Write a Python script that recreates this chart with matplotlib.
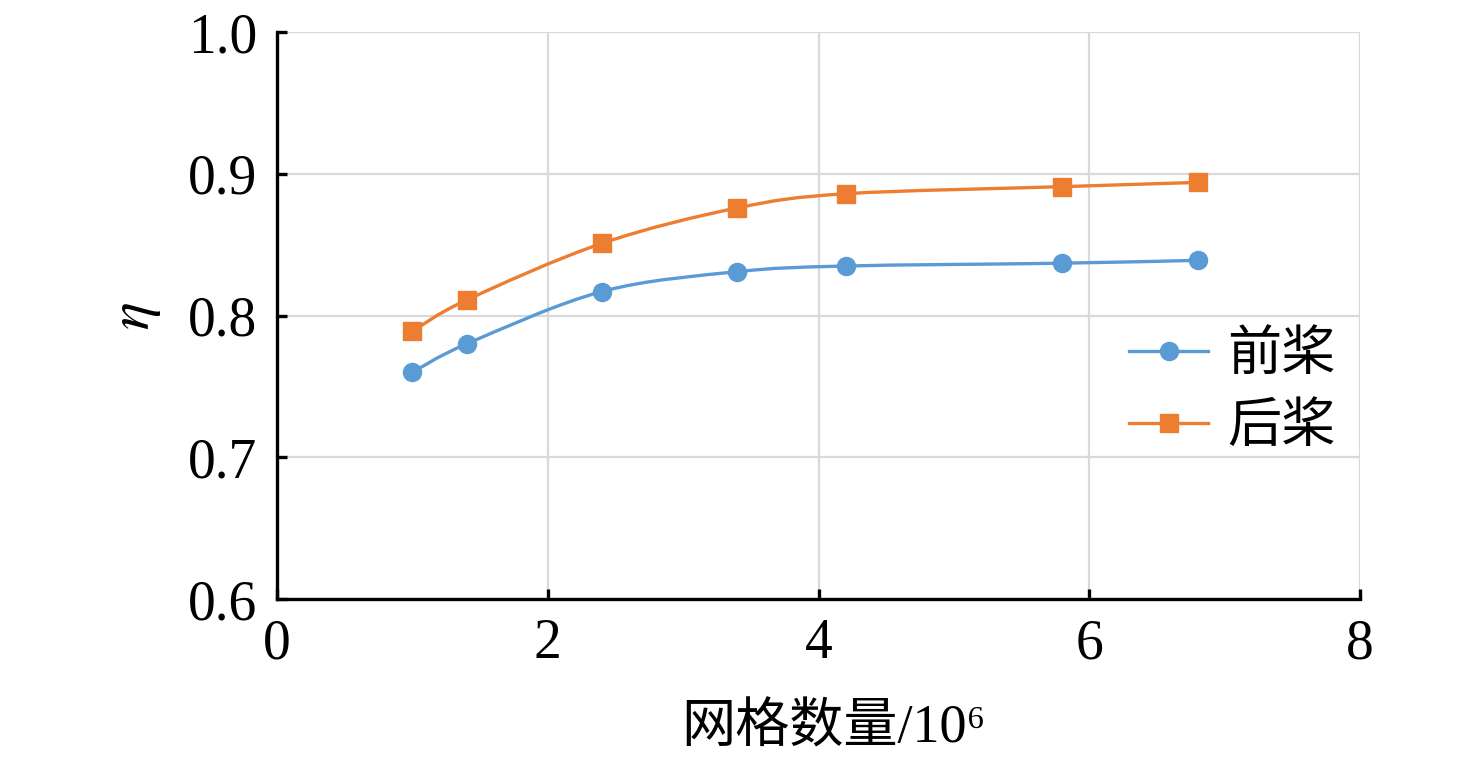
import matplotlib
matplotlib.use("Agg")
import matplotlib.pyplot as plt
from matplotlib.path import Path
from matplotlib.patches import PathPatch
from matplotlib.lines import Line2D
import numpy as np

plt.rcParams['font.family'] = ['Liberation Serif', 'Noto Sans CJK SC']
plt.rcParams['mathtext.fontset'] = 'stix'

grid_counts = [1.0, 1.4, 2.4, 3.4, 4.2, 5.8, 6.8]
front_eta = [0.760, 0.780, 0.817, 0.831, 0.835, 0.837, 0.839]
rear_eta = [0.789, 0.811, 0.851, 0.876, 0.886, 0.891, 0.894]
series_names = ['前桨', '后桨']
x_ticks = [0, 2, 4, 6, 8]
y_ticks = [0.6, 0.7, 0.8, 0.9, 1.0]

blue = '#5B9BD5'
orange = '#ED7D31'


def smooth_path(x, y):
    x = np.asarray(x, float)
    y = np.asarray(y, float)
    n = len(x)
    verts = [(x[0], y[0])]
    codes = [Path.MOVETO]
    for i in range(n - 1):
        p0 = np.array([x[max(i - 1, 0)], y[max(i - 1, 0)]])
        p1 = np.array([x[i], y[i]])
        p2 = np.array([x[i + 1], y[i + 1]])
        p3 = np.array([x[min(i + 2, n - 1)], y[min(i + 2, n - 1)]])
        c1 = p1 + (p2 - p0) / 6.0
        c2 = p2 - (p3 - p1) / 6.0
        verts += [tuple(c1), tuple(c2), tuple(p2)]
        codes += [Path.CURVE4] * 3
    return Path(verts, codes)


fig = plt.figure(figsize=(14.76, 7.67), dpi=100)
ax = fig.add_axes([0.1877, 0.219, 0.9214 - 0.1877, 0.958 - 0.219])

ax.set_xlim(0, 8)
ax.set_ylim(0.6, 1.0)
ax.set_xticks(x_ticks)
ax.set_yticks(y_ticks)
ax.set_yticklabels([f'{v:.1f}' for v in y_ticks])
ax.grid(True, color='#D9D9D9', linewidth=1.6, zorder=0)
ax.set_axisbelow(True)

for s in ['top', 'right']:
    ax.spines[s].set_visible(False)
for s in ['left', 'bottom']:
    ax.spines[s].set_linewidth(2.4)
    ax.spines[s].set_color('black')
    ax.spines[s].set_zorder(5)

ax.tick_params(axis='both', direction='in', length=7, width=2.4, labelsize=40, colors='black')
ax.tick_params(axis='x', pad=14)
ax.tick_params(axis='y', pad=14)

for xs, ys, color, marker in [(grid_counts, front_eta, blue, 'o'), (grid_counts, rear_eta, orange, 's')]:
    patch = PathPatch(smooth_path(xs, ys), facecolor='none', edgecolor=color, linewidth=2.4, zorder=3)
    ax.add_patch(patch)
    ax.plot(xs, ys, linestyle='none', marker=marker, markersize=13, color=color, zorder=4)

handles = [Line2D([], [], color=blue, linewidth=2.4, marker='o', markersize=13),
           Line2D([], [], color=orange, linewidth=2.4, marker='s', markersize=13)]
leg = ax.legend(handles, series_names, loc='center left', bbox_to_anchor=(0.787, 0.368),
                frameon=True, fancybox=False, framealpha=1, edgecolor='none', facecolor='white',
                prop={'family': ['Noto Sans CJK SC'], 'size': 39}, handlelength=1.45,
                handletextpad=0.36, labelspacing=0.3, borderpad=0.0, borderaxespad=0)
leg.set_zorder(6)

ax.set_xlabel('网格数量/10⁶', fontsize=39,
              family=['Liberation Serif', 'Noto Sans CJK SC'])
ax.xaxis.set_label_coords(0.514, -0.185)
ax.set_ylabel(r'$\eta$', fontsize=42, labelpad=18)

fig.savefig('out.png', dpi=100)
